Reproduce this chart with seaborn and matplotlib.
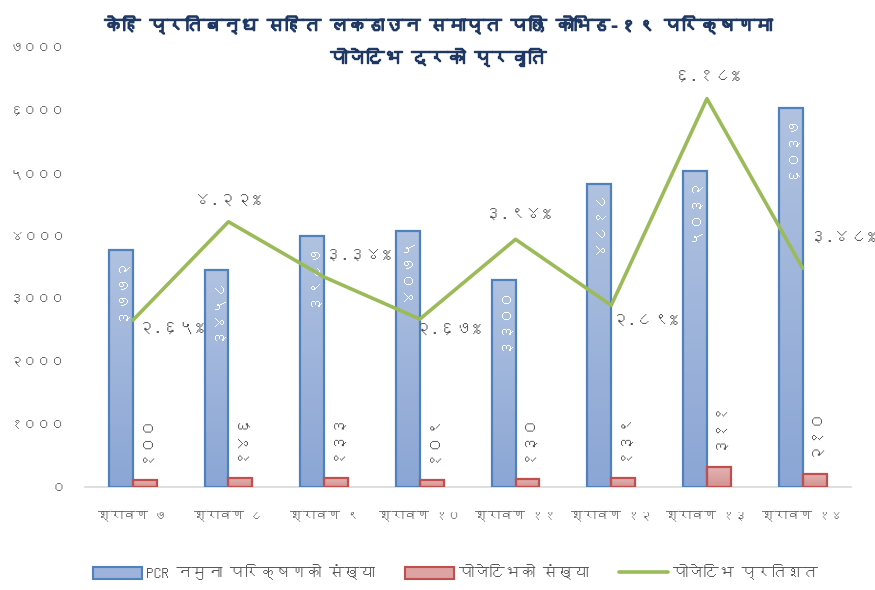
import numpy as np
import pandas as pd
import matplotlib
matplotlib.use("Agg")
import matplotlib.pyplot as plt
import matplotlib.patheffects as pe
from matplotlib import font_manager as fm
from matplotlib.patches import Patch
from matplotlib.lines import Line2D
from matplotlib.colors import LinearSegmentedColormap
import seaborn as sns

# data
days = ["श्रावण ७", "श्रावण ८", "श्रावण ९", "श्रावण १०",
        "श्रावण ११", "श्रावण १२", "श्रावण १३", "श्रावण १४"]
pcr_tests = [3772, 3458, 3987, 4075, 3300, 4818, 5032, 6037]
positives = [100, 146, 133, 109, 130, 139, 311, 210]
positive_pct = [2.65, 4.22, 3.34, 2.67, 3.94, 2.89, 6.18, 3.48]
series_names = ["PCR नमुना परिक्षणको संख्या", "पोजेटिभको संख्या", "पोजेटिभ प्रतिशत"]
title = "केहि प्रतिबन्ध सहित लकडाउन समाप्त पछि कोभिड-१९ परिक्षणमा\nपोजेटिभ दरको प्रवृति"
y_ticks = [0, 1000, 2000, 3000, 4000, 5000, 6000, 7000]

# label offsets for the percent labels (pixels, ha)
pct_offsets = [(5, -8, "left"), (0, 20, "center"), (1, 21, "left"), (-5, -11, "left"),
               (3, 24, "center"), (1, -16, "left"), (0, 21, "center"), (7, 30, "left")]

NEP = str.maketrans("0123456789", "०१२३४५६७८९")


def nep(s):
    return str(s).translate(NEP)


def find_deva_font():
    try:
        from fontTools.ttLib import TTFont
    except ImportError:
        return None
    seen = set()
    for f in fm.fontManager.ttflist:
        if f.fname in seen:
            continue
        seen.add(f.fname)
        try:
            tt = TTFont(f.fname, fontNumber=0, lazy=True)
            cmap = tt.getBestCmap()
            if cmap and 0x0915 in cmap and 0x0966 in cmap:
                return f.name
        except Exception:
            continue
    return None


sns.set_theme(style="white")
deva = find_deva_font()
fams = ([deva] if deva else []) + ["DejaVu Sans"]
plt.rcParams["font.family"] = fams

df = pd.DataFrame({"day": days * 2,
                   "series": [series_names[0]] * len(days) + [series_names[1]] * len(days),
                   "value": pcr_tests + positives})

fig = plt.figure(figsize=(8.75, 5.9), dpi=100)
ax = fig.add_axes([0.097, 0.175, 0.875, 0.745])

blue_edge, red_edge, green = "#4f81bd", "#c0504d", "#9bbb59"
sns.barplot(data=df, x="day", y="value", hue="series", palette=["#9db3dc", "#dca3a2"],
            width=0.5, gap=0, ax=ax, legend=False, saturation=1)

# gradient fill for bars
cm_blue = LinearSegmentedColormap.from_list("b", ["#8ba6d5", "#b0c2e0"])
cm_red = LinearSegmentedColormap.from_list("r", ["#d39391", "#e4b3b2"])
grad = np.linspace(0, 1, 64).reshape(-1, 1)
bars = list(ax.patches)
n = len(days)
for i, p in enumerate(bars):
    is_blue = i < n
    x0, y0 = p.get_x(), p.get_y()
    w, h = p.get_width(), p.get_height()
    im = ax.imshow(grad, cmap=cm_blue if is_blue else cm_red, origin="lower",
                   extent=[x0, x0 + w, y0, y0 + h], aspect="auto", zorder=2)
    im.set_clip_path(p)
    p.set_facecolor("none")
    p.set_edgecolor(blue_edge if is_blue else red_edge)
    p.set_linewidth(1.6)
    p.set_zorder(3)
ax.set_aspect("auto")
ax.set_xlim(-0.5, n - 0.5)
ax.set_ylim(0, 7000)

# bar labels
for i, p in enumerate(bars):
    cx = p.get_x() + p.get_width() / 2
    top = p.get_height()
    if i < n:
        ax.annotate(nep(pcr_tests[i]), (cx, top), xytext=(0, -6), textcoords="offset pixels",
                    rotation=90, ha="center", va="top", color="white", fontsize=11.5, zorder=5)
    else:
        ax.annotate(nep(positives[i - n]), (cx, top), xytext=(0, 18), textcoords="offset pixels",
                    rotation=90, ha="center", va="bottom", color="#595959", fontsize=12, zorder=5)

# percent line on hidden secondary axis
ax2 = ax.twinx()
sns.lineplot(x=np.arange(n), y=positive_pct, ax=ax2, color=green, linewidth=2.6, zorder=4)
ax2.set_ylim(0, 7)
ax2.set_xlim(-0.5, n - 0.5)
ax2.axis("off")
for i, v in enumerate(positive_pct):
    dx, dy, ha = pct_offsets[i]
    ax2.annotate(nep(f"{v:.2f}") + "%", (i, v), xytext=(dx, dy), textcoords="offset pixels",
                 ha=ha, va="center", color="#595959", fontsize=12)

# axes styling
ax.set_xlabel("")
ax.set_ylabel("")
ax.set_yticks(y_ticks)
ax.set_yticklabels([nep(t) for t in y_ticks], color="#595959", fontsize=10)
ax.set_xticks(range(n))
ax.set_xticklabels(days, color="#595959", fontsize=9)
ax.tick_params(axis="x", length=0, pad=17)
ax.tick_params(axis="y", length=0, pad=14)
for s in ["top", "right", "left"]:
    ax.spines[s].set_visible(False)
ax.spines["bottom"].set_color("#d9d9d9")
ax.spines["bottom"].set_linewidth(1.2)

fig.suptitle(title, y=0.975, fontsize=13, fontweight="bold", color="#1f3864", linespacing=1.75,
             path_effects=[pe.withStroke(linewidth=1.0, foreground="#1f3864")])

handles = [Patch(facecolor="#9db3dc", edgecolor=blue_edge, linewidth=1.5),
           Patch(facecolor="#dca3a2", edgecolor=red_edge, linewidth=1.5),
           Line2D([0], [0], color=green, linewidth=2.6)]
fig.legend(handles, series_names, loc="center", bbox_to_anchor=(0.52, 0.03), ncol=3,
           frameon=False, fontsize=11, labelcolor="#595959", handlelength=3.2,
           handleheight=0.9, columnspacing=2.0, handletextpad=0.3)

fig.savefig("out.png", dpi=100)
